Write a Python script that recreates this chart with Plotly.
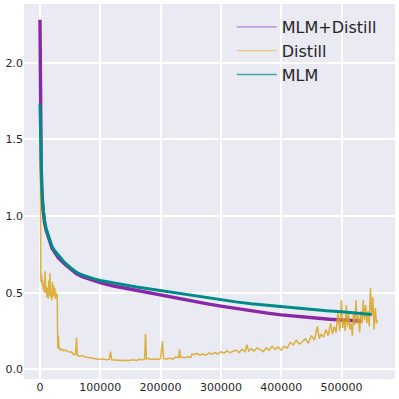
import plotly.graph_objects as go

# ---- data ----
mlm_distill_x = [0, 500, 1000, 2000, 3000, 4000, 5000, 7500, 10000, 15000, 20000, 25000, 30000,
                 40000, 50000, 60000, 70000, 80000, 90000, 100000, 120000, 140000, 160000, 180000,
                 200000, 220000, 240000, 260000, 280000, 300000, 320000, 340000, 360000, 380000,
                 400000, 420000, 440000, 460000, 480000, 500000, 520000, 533000]
mlm_distill_y = [2.28, 1.90, 1.55, 1.32, 1.18, 1.09, 1.04, 0.96, 0.91, 0.85, 0.79, 0.76, 0.73,
                 0.69, 0.655, 0.625, 0.605, 0.59, 0.575, 0.565, 0.545, 0.53, 0.51, 0.495,
                 0.48, 0.465, 0.45, 0.437, 0.425, 0.412, 0.40, 0.385, 0.375, 0.365,
                 0.355, 0.347, 0.34, 0.333, 0.327, 0.322, 0.317, 0.315]

mlm_x = [0, 1000, 2000, 3000, 4000, 5000, 7500, 10000, 15000, 20000, 25000, 30000, 40000, 50000,
         60000, 70000, 80000, 90000, 100000, 120000, 140000, 160000, 180000, 200000, 220000,
         240000, 260000, 280000, 300000, 325000, 350000, 375000, 400000, 425000, 450000,
         475000, 500000, 525000, 550000]
mlm_y = [1.73, 1.45, 1.30, 1.18, 1.10, 1.05, 0.97, 0.92, 0.86, 0.80, 0.77, 0.745, 0.70, 0.665,
         0.635, 0.615, 0.60, 0.59, 0.58, 0.565, 0.55, 0.537, 0.525, 0.513, 0.50,
         0.488, 0.475, 0.465, 0.455, 0.44, 0.428, 0.418, 0.41, 0.398, 0.39,
         0.382, 0.375, 0.366, 0.358]

distill_x = [0, 300, 600, 1000, 1500, 2500, 3500, 4500, 5500, 6500, 7500, 8500, 9500, 10500,
             11500, 12500, 13500, 14500, 15500, 16500, 17500, 18500, 19500, 20500, 21500, 22500,
             23500, 24500, 25500, 26500, 27500, 28500, 29500, 30500, 31500, 33000, 35000, 37500,
             40000, 42500, 45000, 47500, 50000, 52500, 55000, 57500, 59000, 60500, 62000, 65000,
             70000, 75000, 80000, 85000, 90000, 95000, 100000, 105000, 110000, 115000, 117000,
             119000, 125000, 130000, 135000, 140000, 145000, 150000, 155000, 160000, 165000,
             170000, 173500, 175000, 176500, 180000, 185000, 190000, 195000, 200000, 203000,
             205000, 210000, 215000, 220000, 225000, 230000, 231500, 233000, 240000, 245000,
             250000, 252000, 255000, 260000, 265000, 270000, 275000, 280000, 285000, 290000,
             295000, 300000, 305000, 310000, 315000, 320000, 325000, 330000, 335000, 340000,
             343000, 346000, 350000, 355000, 360000, 365000, 370000, 375000, 380000, 385000,
             390000, 395000, 400000, 405000, 410000, 415000, 420000, 425000, 430000, 435000,
             440000, 445000, 450000, 455000, 460000, 463000, 466000, 470000, 474000, 478000,
             482000, 485000, 488000, 491000, 494000, 497000, 500000, 502000, 504000, 506000,
             508000, 510000, 512000, 514000, 516000, 518000, 520000, 522000, 524000, 526000,
             528000, 530000, 532000, 534000, 536000, 538000, 540000, 542000, 544000, 546000,
             548000, 550000, 552000, 554000, 556000, 558000, 560000]
distill_y = [1.63, 1.20, 0.90, 0.66, 0.57, 0.62, 0.55, 0.58, 0.52, 0.56, 0.50, 0.64, 0.50, 0.54,
             0.47, 0.53, 0.46, 0.58, 0.48, 0.63, 0.47, 0.52, 0.45, 0.57, 0.47, 0.55,
             0.48, 0.53, 0.46, 0.50, 0.47, 0.49, 0.14, 0.22, 0.13, 0.14, 0.125, 0.13,
             0.12, 0.125, 0.12, 0.115, 0.11, 0.115, 0.10, 0.095, 0.10, 0.205, 0.09, 0.085,
             0.09, 0.08, 0.075, 0.07, 0.07, 0.068, 0.065, 0.068, 0.063, 0.065, 0.115,
             0.063, 0.06, 0.062, 0.058, 0.06, 0.057, 0.06, 0.062, 0.058, 0.065,
             0.063, 0.066, 0.23, 0.068, 0.07, 0.065, 0.068, 0.065, 0.07, 0.185,
             0.07, 0.068, 0.072, 0.066, 0.08, 0.078, 0.13, 0.08, 0.075, 0.082,
             0.078, 0.10, 0.095, 0.105, 0.093, 0.10, 0.092, 0.108, 0.098, 0.11,
             0.10, 0.115, 0.105, 0.12, 0.108, 0.115, 0.125, 0.11, 0.13, 0.115,
             0.16, 0.12, 0.135, 0.12, 0.14, 0.13, 0.115, 0.14, 0.125, 0.15,
             0.13, 0.145, 0.125, 0.15, 0.14, 0.175, 0.16, 0.19, 0.165, 0.18,
             0.20, 0.17, 0.22, 0.19, 0.28, 0.20, 0.23, 0.21, 0.26, 0.22,
             0.30, 0.23, 0.28, 0.24, 0.37, 0.25, 0.45, 0.27, 0.33, 0.25,
             0.42, 0.28, 0.36, 0.26, 0.30, 0.22, 0.38, 0.29, 0.45, 0.30,
             0.35, 0.24, 0.38, 0.30, 0.45, 0.32, 0.42, 0.30, 0.38, 0.28,
             0.53, 0.35, 0.47, 0.26, 0.40, 0.30, 0.32]

series_names = ["MLM+Distill", "Distill", "MLM"]
x_ticks = [0, 100000, 200000, 300000, 400000, 500000]
y_ticks = [0.0, 0.5, 1.0, 1.5, 2.0]

TEXT = "#262626"
FONT = "DejaVu Sans"
PURPLE, GOLD, TEAL = "#8A27A8", "#DAA520", "#008B8B"
LEG_COLORS = ["#B77FD0", "#E8C777", "#3FA9A9"]

fig = go.Figure()
fig.add_trace(go.Scatter(x=mlm_distill_x, y=mlm_distill_y, mode="lines", showlegend=False,
                         line=dict(color=PURPLE, width=3.4)))
fig.add_trace(go.Scatter(x=distill_x, y=distill_y, mode="lines", showlegend=False,
                         line=dict(color=GOLD, width=1.5), opacity=0.85))
fig.add_trace(go.Scatter(x=mlm_x, y=mlm_y, mode="lines", showlegend=False,
                         line=dict(color=TEAL, width=3.0)))
# legend-only entries (thin, light lines as in the reference legend)
for nm, col in zip(series_names, LEG_COLORS):
    fig.add_trace(go.Scatter(x=[None], y=[None], mode="lines", name=nm,
                             line=dict(color=col, width=1.3)))

fig.update_layout(
    width=399, height=399,
    margin=dict(l=24, r=4, t=4, b=20),
    paper_bgcolor="white",
    plot_bgcolor="#EAEAF2",
    font=dict(family=FONT, color=TEXT, size=11),
    showlegend=True,
    legend=dict(x=0.56, y=0.984, xanchor="left", yanchor="top",
                bgcolor="rgba(0,0,0,0)", borderwidth=0, tracegroupgap=0,
                font=dict(family=FONT, size=16, color=TEXT), itemwidth=40),
    xaxis=dict(range=[-26500, 588700], tickvals=x_ticks, ticktext=[str(v) for v in x_ticks],
               showgrid=True, gridcolor="white", gridwidth=1.5, zeroline=False, automargin=False,
               showline=False, ticks="", ticklen=0, tickfont=dict(size=11, color=TEXT)),
    yaxis=dict(range=[-0.063, 2.383], tickvals=y_ticks, ticktext=[f"{v:.1f}" for v in y_ticks],
               showgrid=True, gridcolor="white", gridwidth=1.5, zeroline=False, automargin=False,
               showline=False, ticks="", ticklen=0, tickfont=dict(size=11, color=TEXT)),
)

fig.write_html("out.html", config={"displayModeBar": False},
               post_script="document.body.style.margin='0px';")
